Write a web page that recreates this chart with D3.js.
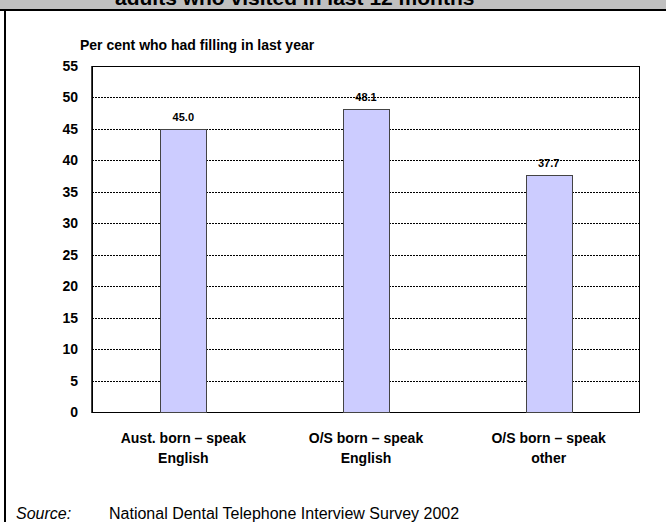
<!DOCTYPE html>
<html>
<head>
<meta charset="utf-8">
<script src="https://cdn.jsdelivr.net/npm/d3@7/dist/d3.min.js"></script>
<style>
  html, body { margin: 0; padding: 0; background: #fff; }
  svg { display: block; font-family: Arial, "Liberation Sans", sans-serif; }
</style>
</head>
<body>
<svg id="chart" width="666" height="522"></svg>
<script>
const titleText = "adults who visited in last 12 months";
const subtitleText = "Per cent who had filling in last year";
const categories = ["Aust. born – speak English", "O/S born – speak English", "O/S born – speak other"];
const categoryLines = [["Aust. born – speak", "English"], ["O/S born – speak", "English"], ["O/S born – speak", "other"]];
const values = [45.0, 48.1, 37.7];
const yTicks = [0, 5, 10, 15, 20, 25, 30, 35, 40, 45, 50, 55];
const sourceLabel = "Source:";
const sourceText = "National Dental Telephone Interview Survey 2002";

const svg = d3.select("#chart");
const W = 666, H = 522;
const plot = { left: 92, right: 640, top: 66, bottom: 412 };

// header bar
svg.append("rect").attr("x", 0).attr("y", 0).attr("width", W).attr("height", 10).attr("fill", "#c0c0c0");
svg.append("text").attr("x", 115).attr("y", 5)
  .attr("font-size", 21).attr("font-weight", "bold").attr("fill", "#000")
  .text(titleText);
svg.append("line").attr("x1", 0).attr("x2", W).attr("y1", 10).attr("y2", 10)
  .attr("stroke", "#000").attr("stroke-width", 2);
svg.append("line").attr("x1", 5).attr("x2", 5).attr("y1", 10).attr("y2", H)
  .attr("stroke", "#000").attr("stroke-width", 2);

const y = d3.scaleLinear().domain([0, 55]).range([plot.bottom, plot.top]);
const x = d3.scaleBand().domain(categories).range([plot.left, plot.right]).padding(0);
const barW = x.bandwidth() * 0.25;

// subtitle
svg.append("text").attr("x", 80).attr("y", 50)
  .attr("font-size", 14).attr("font-weight", "bold").text(subtitleText);

// gridlines
svg.append("g").selectAll("line").data(yTicks.filter(t => t > 0 && t < 55)).join("line")
  .attr("x1", plot.left).attr("x2", plot.right)
  .attr("y1", d => Math.round(y(d)) + 0.5).attr("y2", d => Math.round(y(d)) + 0.5)
  .attr("stroke", "#000").attr("stroke-width", 1).attr("stroke-dasharray", "2,1");

// plot border
svg.append("rect").attr("x", plot.left + 0.5).attr("y", plot.top + 0.5)
  .attr("width", plot.right - plot.left - 1).attr("height", plot.bottom - plot.top)
  .attr("fill", "none").attr("stroke", "#000").attr("stroke-width", 1);
svg.append("line").attr("x1", plot.left).attr("x2", plot.left).attr("y1", plot.top).attr("y2", plot.bottom + 1)
  .attr("stroke", "#000").attr("stroke-width", 1.5);

// y axis labels
const yAxis = d3.axisLeft(y).tickValues(yTicks).tickSize(0).tickPadding(14).tickFormat(d3.format("d"));
const gy = svg.append("g").attr("transform", `translate(${plot.left},0)`).call(yAxis);
gy.select(".domain").remove();
gy.selectAll("text").attr("font-size", 14).attr("font-weight", "bold").attr("fill", "#000")
  .attr("font-family", "Arial, 'Liberation Sans', sans-serif");

// bars
svg.append("g").selectAll("rect").data(values).join("rect")
  .attr("x", (d, i) => Math.round(x(categories[i]) + x.bandwidth() / 2 - barW / 2) + 0.5)
  .attr("y", d => Math.round(y(d)) + 0.5)
  .attr("width", Math.round(barW))
  .attr("height", d => Math.round(y(0)) - Math.round(y(d)))
  .attr("fill", "#ccccff").attr("stroke", "#444").attr("stroke-width", 1);

// value labels
svg.append("g").selectAll("text").data(values).join("text")
  .attr("x", (d, i) => x(categories[i]) + x.bandwidth() / 2)
  .attr("y", d => y(d) - 8)
  .attr("text-anchor", "middle").attr("font-size", 11).attr("font-weight", "bold")
  .text(d => d3.format(".1f")(d));

// category labels
const gx = svg.append("g");
categoryLines.forEach((lines, i) => {
  const cx = x(categories[i]) + x.bandwidth() / 2;
  lines.forEach((ln, j) => {
    gx.append("text").attr("x", cx).attr("y", 443 + j * 20)
      .attr("text-anchor", "middle").attr("font-size", 14).attr("font-weight", "bold")
      .text(ln);
  });
});

// source
svg.append("text").attr("x", 16).attr("y", 519).attr("font-size", 16).attr("font-style", "italic").text(sourceLabel);
svg.append("text").attr("x", 109).attr("y", 519).attr("font-size", 16).text(sourceText);
</script>
</body>
</html>
